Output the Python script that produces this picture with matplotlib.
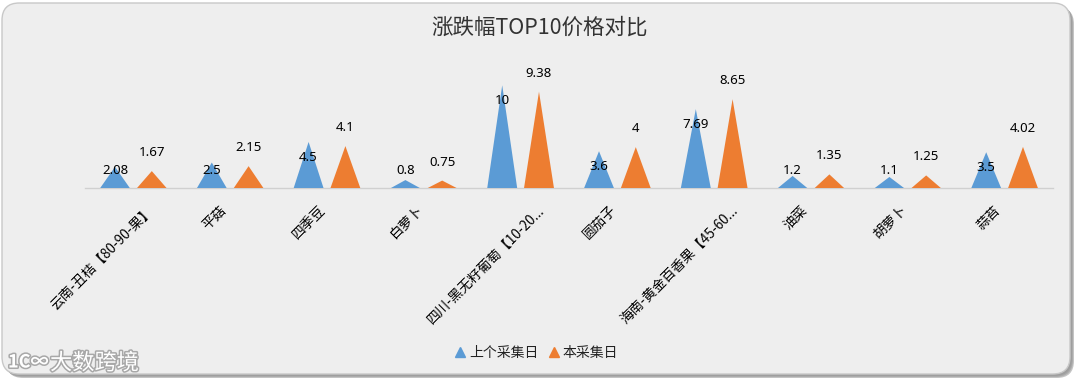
import matplotlib
matplotlib.use("Agg")
import matplotlib.pyplot as plt
from matplotlib.patches import FancyBboxPatch, Polygon
import matplotlib.patheffects as pe
import matplotlib.transforms as mtransforms

plt.rcParams['font.family'] = ['Noto Sans CJK SC', 'DejaVu Sans']

categories = ["云南-丑桔【80-90-果】", "平菇", "四季豆", "白萝卜", "四川-黑无籽葡萄【10-20...",
              "圆茄子", "海南-黄金百香果【45-60...", "油菜", "胡萝卜", "蒜苔"]
prev_values = [2.08, 2.5, 4.5, 0.8, 10, 3.6, 7.69, 1.2, 1.1, 3.5]
curr_values = [1.67, 2.15, 4.1, 0.75, 9.38, 4, 8.65, 1.35, 1.25, 4.02]
series_names = ["上个采集日", "本采集日"]
colors = ["#5B9BD5", "#ED7D31"]

W, H = 1080, 386
fig = plt.figure(figsize=(W / 100, H / 100), dpi=100)
fig.patch.set_facecolor("white")

# rounded panel with shadow
for k, (dx, dy, c) in enumerate([(4, -4, "#C4C4C4"), (3, -3, "#ABABAB"), (2, -2, "#9E9E9E")]):
    sh = FancyBboxPatch(((2 + dx) / W, (12 + dy) / H), 1068 / W, 371 / H,
                        boxstyle="round,pad=0,rounding_size=0.016",
                        transform=fig.transFigure, facecolor=c,
                        edgecolor="none", zorder=-3 + k * 0.1, mutation_aspect=W / H)
    fig.patches.append(sh)
panel = FancyBboxPatch((2 / W, 12 / H), 1068 / W, 371 / H,
                       boxstyle="round,pad=0,rounding_size=0.016",
                       transform=fig.transFigure, facecolor="#EEEEEE",
                       edgecolor="#C8C8C8", linewidth=1, zorder=-1,
                       mutation_aspect=W / H)
fig.patches.append(panel)

ax = fig.add_axes([85 / W, (H - 188.3) / H, (1053 - 85) / W, 123.6 / H])
ax.set_facecolor("none")
ax.set_xlim(-0.5, len(categories) - 0.5)
ax.set_ylim(0, 12)

half_w = 0.155
offsets = [-0.19, 0.19]
for s, (vals, col) in enumerate(zip([prev_values, curr_values], colors)):
    for i, v in enumerate(vals):
        cx = i + offsets[s]
        poly = Polygon([(cx - half_w, 0), (cx, v), (cx + half_w, 0)], closed=True,
                       facecolor=col, edgecolor="none", zorder=3)
        ax.add_patch(poly)

# data labels
lab_font = ["Noto Sans", "DejaVu Sans"]
for i, v in enumerate(prev_values):
    y = max(v - 1.5, 1.75)
    ax.text(i + offsets[0], y, f"{v:g}", ha="center", va="center", fontsize=9.5,
            color="#000000", zorder=5, family=lab_font)
for i, v in enumerate(curr_values):
    ax.text(i + offsets[1], v + 1.8, f"{v:g}", ha="center", va="center", fontsize=9.5,
            color="#000000", zorder=5, family=lab_font)

for sp in ["top", "right", "left"]:
    ax.spines[sp].set_visible(False)
ax.spines["bottom"].set_color("#D0D0D0")
ax.spines["bottom"].set_linewidth(1)
ax.set_yticks([])
ax.set_xticks(range(len(categories)))
ax.set_xticklabels(categories, rotation=45, ha="right", va="center",
                   rotation_mode="anchor", fontsize=9.8, color="#000000")
ax.tick_params(axis="x", length=0, pad=14)

# Excel-like placement: longer rotated labels sit further right
fig.canvas.draw()
renderer = fig.canvas.get_renderer()
for lab in ax.get_xticklabels():
    bw = lab.get_window_extent(renderer).width
    shift_px = 0.3 * bw - 15
    lab.set_transform(lab.get_transform() +
                      mtransforms.ScaledTranslation(shift_px / 100, 0, fig.dpi_scale_trans))

# title
fig.text(0.5, (H - 28) / H, "涨跌幅TOP10价格对比", ha="center", va="center",
         fontsize=15.5, color="#333333")

# legend
handles = [plt.Line2D([], [], marker="^", linestyle="none", color=c, markersize=6.5)
           for c in colors]
fig.legend(handles, series_names, loc="center", bbox_to_anchor=(535 / W, (H - 353) / H),
           ncol=2, frameon=False, fontsize=10, handletextpad=0.05, columnspacing=0.5,
           handlelength=1.2, labelcolor="#222222")

# watermark
wm_fx = [pe.withStroke(linewidth=2.2, foreground="#A8A8A8")]
fig.text(50 / W, (H - 363) / H, "大数跨境", ha="left", va="center", fontsize=16,
         color="white", path_effects=wm_fx)
fig.text(8 / W, (H - 362) / H, "1C∞", ha="left", va="center", fontsize=13,
         color="white", fontweight="bold", path_effects=wm_fx)

fig.savefig("out.png", dpi=100, facecolor="white")
